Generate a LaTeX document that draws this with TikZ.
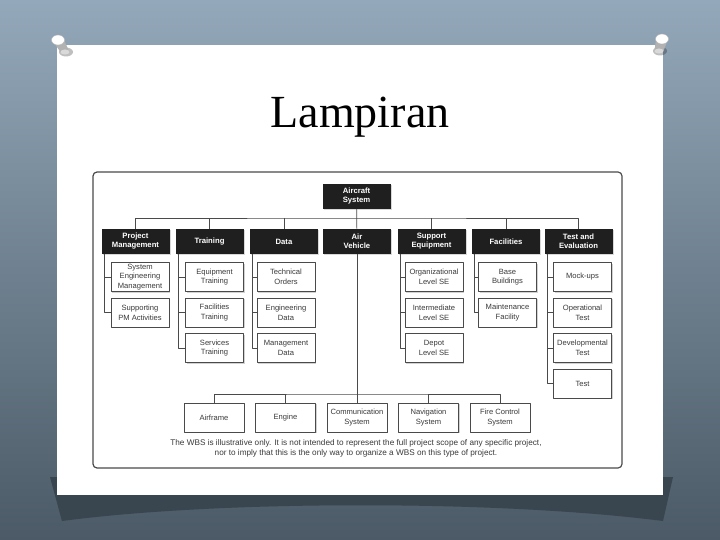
\documentclass[tikz,border=0pt]{standalone}
\usepackage{fontspec}
\setmainfont{Liberation Serif}
\setsansfont{Liberation Sans}
\usetikzlibrary{shadows}
\definecolor{slatetop}{HTML}{93A8BA}
\definecolor{slatemid}{HTML}{6E8292}
\definecolor{slatebot}{HTML}{4B5A66}
\definecolor{curl}{HTML}{39454F}
\definecolor{boxline}{HTML}{4A4A4A}
\definecolor{boxtext}{HTML}{3A3A3A}
\tikzset{
  hdr/.style={fill=black!88, text=white, font=\sffamily\bfseries\fontsize{7.7}{9}\selectfont,
    minimum width=68pt, minimum height=25pt, inner sep=1pt, align=center,
    drop shadow={shadow xshift=1pt, shadow yshift=-1pt, fill=black!30}},
  sub/.style={draw=boxline, fill=white, text=boxtext, font=\sffamily\fontsize{7.6}{9.6}\selectfont,
    minimum width=58pt, minimum height=29pt, inner sep=1pt, align=center,
    drop shadow={shadow xshift=1.3pt, shadow yshift=-1.3pt, fill=black!35}},
  tree/.style={draw=boxline, line width=0.7pt},
}
% push pin: head centre x, y, lean of the body
\newcommand{\pushpin}[3]{
  \fill[black, opacity=.25] (#1+#3+1,#2+12) ellipse (7 and 4.5);
  \fill[gray!60] (#1-6,#2) -- (#1+#3-4.5,#2+12) -- (#1+#3+4.5,#2+12) -- (#1+6,#2) -- cycle;
  \fill[gray!30] (#1+#3,#2+12) ellipse (4.5 and 2.5);
  \fill[white, draw=gray!55] (#1,#2) ellipse (6.5 and 5);
}
\begin{document}
\begin{tikzpicture}[x=1pt, y=-1pt, line join=round]
\useasboundingbox (0,0) rectangle (720,540);
\def\ybus{218} \def\ylow{394}
% slide
\shade[top color=slatetop, middle color=slatemid, bottom color=slatebot] (0,0) rectangle (720,540);
\fill[curl] (50,477) -- (673,477) -- (663,521) .. controls (500,500) and (220,500) .. (62,521) -- cycle;
\fill[white] (57,45) rectangle (663,495);
\pushpin{58}{40}{7}
\pushpin{662}{39}{-3}
\node[font=\fontsize{46}{50}\selectfont, anchor=base] (title) at (360,128) {Lampiran};
\draw[boxline, line width=1.2pt, rounded corners=4pt] (93,172) rectangle (622,468);

% level 1 and 2
\node[hdr] (sys) at (356.5,196.5) {Aircraft\\System};
\node[hdr] (pm) at (135.5,241.5) {Project\\Management};
\node[hdr] (tr) at (209.5,241.5) {Training};
\node[hdr] (da) at (284,241.5) {Data};
\node[hdr] (av) at (357,241.5) {Air\\Vehicle};
\node[hdr] (se) at (431.5,241.5) {Support\\Equipment};
\node[hdr] (fa) at (506,241.5) {Facilities};
\node[hdr] (te) at (578.5,241.5) {Test and\\Evaluation};
\draw[tree] (sys) -- (av);
\draw[tree] (pm.north) |- (sys.south |- 0,\ybus) -| (te.north);
\foreach \n in {tr,da,se,fa}
  \draw[tree] (\n.north) -- (\n.north |- 0,\ybus);

% level 3
\foreach \n/\x/\y/\t in {pm1/140/277/{\fontsize{7.6}{8.5}\selectfont System\\Engineering\\Management}, pm2/140/312.5/{Supporting\\PM Activities},
    tr1/214.5/277/{Equipment\\Training}, tr2/214.5/312.5/{Facilities\\Training}, tr3/214.5/348/{Services\\Training},
    da1/286/277/{Technical\\Orders}, da2/286/312.5/{Engineering\\Data}, da3/286/348/{Management\\Data},
    se1/434/277/{Organizational\\Level SE}, se2/434/312.5/{Intermediate\\Level SE}, se3/434/348/{Depot\\Level SE},
    fa1/507.5/277/{Base\\Buildings}, fa2/507.5/312.5/{Maintenance\\Facility},
    te1/582.5/277/{Mock-ups}, te2/582.5/312.5/{Operational\\Test}, te3/582.5/348/{Developmental\\Test}, te4/582.5/383.5/{Test}}
  \node[sub] (\n) at (\x,\y) {\t};
\foreach \p/\c in {pm/pm1, pm/pm2, tr/tr1, tr/tr2, tr/tr3, da/da1, da/da2, da/da3,
    se/se1, se/se2, se/se3, fa/fa1, fa/fa2, te/te1, te/te2, te/te3, te/te4}
  \draw[tree] ([xshift=3pt]\p.south west) |- (\c.west);

% air vehicle breakdown
\node[sub, minimum width=60pt] (af) at (214,417.5) {Airframe};
\node[sub, minimum width=60pt] (en) at (285.5,417.5) {Engine};
\node[sub, minimum width=60pt] (cs) at (357,417.5) {Communication\\System};
\node[sub, minimum width=60pt] (ns) at (428.5,417.5) {Navigation\\System};
\node[sub, minimum width=60pt] (fc) at (500,417.5) {Fire Control\\System};
\draw[tree] (av) -- (cs);
\draw[tree] (af.north) |- (cs.north |- 0,\ylow) -| (fc.north);
\foreach \n in {en,ns}
  \draw[tree] (\n.north) -- (\n.north |- 0,\ylow);

\node[font=\sffamily\fontsize{8.2}{10}\selectfont, text=boxtext, align=center] (note) at (356,448.5)
  {The WBS is illustrative only. It is not intended to represent the full project scope of any specific project,\\
   nor to imply that this is the only way to organize a WBS on this type of project.};
\end{tikzpicture}
\end{document}
